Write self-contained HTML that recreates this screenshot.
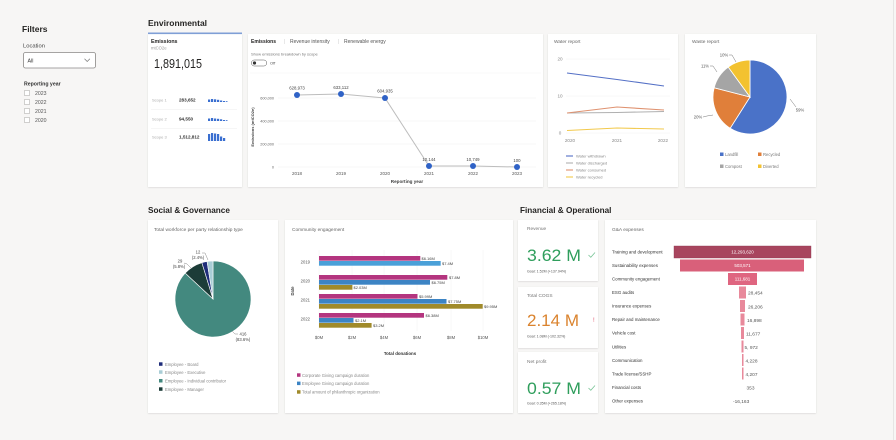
<!DOCTYPE html>
<html><head><meta charset="utf-8"><style>
html,body{margin:0;padding:0;background:#f7f6f5;}
svg{display:block;font-family:"Liberation Sans",Arial,sans-serif;}
</style></head><body>
<svg width="896" height="440" viewBox="0 0 896 440" xmlns="http://www.w3.org/2000/svg">
<defs>
<filter id="sh" x="-5%" y="-5%" width="110%" height="115%"><feDropShadow dx="0" dy="0.6" stdDeviation="0.8" flood-color="#000" flood-opacity="0.13"/></filter>
</defs>
<rect width="896" height="440" fill="#f7f6f5"/>
<line x1="893.5" y1="0" x2="893.5" y2="440" stroke="#e6e5e4" stroke-width="1"/>

<!-- Filters -->
<text x="22" y="32" font-size="8.5" font-weight="700" fill="#252423">Filters</text>
<text x="23" y="47.5" font-size="5.8" fill="#444">Location</text>
<rect x="23.5" y="52.5" width="72" height="15.5" rx="2" fill="#fff" stroke="#8a8886" stroke-width="0.8"/>
<text x="27.5" y="62.3" font-size="5.3" fill="#333">All</text>
<polyline points="84.5,58.8 87.2,61.5 89.9,58.8" fill="none" stroke="#777" stroke-width="0.7"/>
<text x="24" y="85.5" font-size="5.2" font-weight="700" fill="#333">Reporting year</text>
<g fill="#fff" stroke="#b5b3b1" stroke-width="0.6">
<rect x="24.5" y="90.5" width="5" height="5"/><rect x="24.5" y="99.5" width="5" height="5"/>
<rect x="24.5" y="108.5" width="5" height="5"/><rect x="24.5" y="117.5" width="5" height="5"/>
</g>
<g font-size="5.2" fill="#555">
<text x="35" y="95">2023</text><text x="35" y="104">2022</text><text x="35" y="113">2021</text><text x="35" y="122">2020</text>
</g>

<!-- Environmental -->
<text x="148" y="26" font-size="8.5" font-weight="700" fill="#252423">Environmental</text>
<g filter="url(#sh)">
<rect x="148" y="34" width="94" height="153" fill="#fff"/>
<rect x="248" y="34" width="295" height="153" fill="#fff"/>
<rect x="548" y="34" width="130" height="153" fill="#fff"/>
<rect x="685" y="34" width="131" height="153" fill="#fff"/>
<rect x="148" y="220" width="130" height="193" fill="#fff"/>
<rect x="285" y="220" width="228" height="193" fill="#fff"/>
<rect x="518" y="220" width="80" height="61" fill="#fff"/>
<rect x="518" y="287" width="80" height="61" fill="#fff"/>
<rect x="518" y="352" width="80" height="61" fill="#fff"/>
<rect x="605" y="220" width="211" height="193" fill="#fff"/>
</g>
<rect x="148" y="32.5" width="94" height="1.6" fill="#7f9fd6"/>

<!-- Emissions KPI card -->
<text x="151" y="43" font-size="5.3" font-weight="700" fill="#252423">Emissions</text>
<text x="151" y="49.5" font-size="4.2" fill="#999">mtCO2e</text>
<text x="154" y="68" font-size="13" fill="#252423" textLength="48" lengthAdjust="spacingAndGlyphs">1,891,015</text>
<g font-size="4" fill="#aaa"><text x="152" y="101.5">Scope 1</text><text x="152" y="120.5">Scope 2</text><text x="152" y="138.5">Scope 3</text></g>
<g font-size="4.6" font-weight="700" fill="#333"><text x="179" y="101.5">283,652</text><text x="179" y="120.5">94,550</text><text x="179" y="138.5">1,512,812</text></g>
<line x1="151" y1="109.5" x2="237" y2="109.5" stroke="#eee" stroke-width="0.6"/>
<line x1="151" y1="128.5" x2="237" y2="128.5" stroke="#eee" stroke-width="0.6"/>
<g fill="#3a6fd0">
<rect x="208" y="99.5" width="2.2" height="2.5"/><rect x="211" y="99" width="2.2" height="3"/><rect x="214" y="99.3" width="2.2" height="2.7"/><rect x="217" y="99.8" width="2.2" height="2.2"/><rect x="220" y="100.5" width="2.2" height="1.5"/><rect x="223" y="101" width="2.2" height="1"/><rect x="226" y="101.2" width="1.5" height="0.8"/>
<rect x="208" y="118.5" width="2.2" height="2.5"/><rect x="211" y="118" width="2.2" height="3"/><rect x="214" y="118.5" width="2.2" height="2.5"/><rect x="217" y="118.8" width="2.2" height="2.2"/><rect x="220" y="119.3" width="2.2" height="1.7"/><rect x="223" y="120" width="2.2" height="1"/><rect x="226" y="120.2" width="1.5" height="0.8"/>
<rect x="208" y="134" width="2.2" height="7"/><rect x="211" y="133" width="2.2" height="8"/><rect x="214" y="133.5" width="2.2" height="7.5"/><rect x="217" y="134" width="2.2" height="7"/><rect x="220" y="136.5" width="2.2" height="4.5"/><rect x="223" y="138" width="2.2" height="3"/>
</g>

<!-- Emissions line chart -->
<text x="251" y="43" font-size="5" font-weight="700" fill="#252423">Emissions</text>
<text x="284" y="43" font-size="5" fill="#ccc">|</text>
<text x="290" y="43" font-size="5" fill="#555">Revenue intensity</text>
<text x="338" y="43" font-size="5" fill="#ccc">|</text>
<text x="344" y="43" font-size="5" fill="#555">Renewable energy</text>
<text x="251" y="55.5" font-size="4" fill="#777">Show emissions breakdown by scope</text>
<rect x="251.3" y="60" width="15.5" height="6" rx="3" fill="#fff" stroke="#555" stroke-width="0.5"/>
<circle cx="254.5" cy="63" r="1.6" fill="#333"/>
<text x="270" y="64.5" font-size="4" fill="#555">Off</text>
<line x1="250" y1="73" x2="541" y2="73" stroke="#f2f2f2" stroke-width="0.5"/>
<g stroke="#efefef" stroke-width="0.5">
<line x1="278" y1="98" x2="536" y2="98"/><line x1="278" y1="121" x2="536" y2="121"/><line x1="278" y1="144" x2="536" y2="144"/><line x1="278" y1="167" x2="536" y2="167"/>
</g>
<g font-size="3.8" fill="#666" text-anchor="end">
<text x="274" y="99.5">600,000</text><text x="274" y="122.5">400,000</text><text x="274" y="145.5">200,000</text><text x="274" y="168.5">0</text>
</g>
<text transform="translate(254,127) rotate(-90)" font-size="4" font-weight="700" fill="#444" text-anchor="middle">Emissions (mtCO2e)</text>
<g font-size="4.5" fill="#555" text-anchor="middle">
<text x="297" y="175">2018</text><text x="341" y="175">2019</text><text x="385" y="175">2020</text><text x="429" y="175">2021</text><text x="473" y="175">2022</text><text x="517" y="175">2023</text>
</g>
<text x="407" y="183" font-size="4.6" font-weight="700" fill="#444" text-anchor="middle">Reporting year</text>
<polyline points="297,95 341,94 385,98 429,166 473,166 517,167" fill="none" stroke="#bdbdbd" stroke-width="1"/>
<g fill="#2f62c6">
<circle cx="297" cy="95" r="3"/><circle cx="341" cy="94" r="3"/><circle cx="385" cy="98" r="3"/><circle cx="429" cy="166" r="3"/><circle cx="473" cy="166" r="3"/><circle cx="517" cy="167" r="3"/>
</g>
<g font-size="4.3" fill="#444" text-anchor="middle">
<text x="297" y="89.5">628,973</text><text x="341" y="89">633,112</text><text x="385" y="92.5">604,935</text><text x="429" y="161">10,144</text><text x="473" y="161">10,749</text><text x="517" y="162">100</text>
</g>

<!-- Water report -->
<text x="554" y="43" font-size="4.8" fill="#666">Water report</text>
<g stroke="#f0f0f0" stroke-width="0.5"><line x1="566" y1="59" x2="670" y2="59"/><line x1="566" y1="96" x2="670" y2="96"/><line x1="566" y1="133" x2="670" y2="133"/></g>
<g font-size="4.6" fill="#888" text-anchor="middle">
<text x="560" y="60.5">20</text><text x="560" y="97.5">10</text><text x="560" y="134.5">0</text>
<text x="570" y="142">2020</text><text x="617" y="142">2021</text><text x="663" y="142">2022</text>
</g>
<polyline points="567,73 617,79.5 664,86" fill="none" stroke="#5470c6" stroke-width="1.1"/>
<polyline points="567,113 617,112.5 664,111.5" fill="none" stroke="#b0b0b0" stroke-width="1.1"/>
<polyline points="567,113 617,107 664,110" fill="none" stroke="#df9270" stroke-width="1.1"/>
<polyline points="567,130.5 617,128 664,129" fill="none" stroke="#f2c94c" stroke-width="1.1"/>
<g stroke-width="1.1"><line x1="566" y1="156" x2="573" y2="156" stroke="#5470c6"/><line x1="566" y1="163" x2="573" y2="163" stroke="#b0b0b0"/><line x1="566" y1="170" x2="573" y2="170" stroke="#df9270"/><line x1="566" y1="177" x2="573" y2="177" stroke="#f2c94c"/></g>
<g font-size="4" fill="#888"><text x="576" y="157.5">Water withdrawn</text><text x="576" y="164.5">Water discharged</text><text x="576" y="171.5">Water consumed</text><text x="576" y="178.5">Water recycled</text></g>

<!-- Waste report -->
<text x="692" y="43" font-size="4.8" fill="#666">Waste report</text>
<g stroke="#fff" stroke-width="0.8">
<path d="M750,97 L750,60 A37,37 0 1 1 730.18,128.24 Z" fill="#4a72c8"/>
<path d="M750,97 L730.18,128.24 A37,37 0 0 1 714.16,87.80 Z" fill="#e07f3a"/>
<path d="M750,97 L714.16,87.80 A37,37 0 0 1 728.25,67.07 Z" fill="#a5a5a5"/>
<path d="M750,97 L728.25,67.07 A37,37 0 0 1 750,60 Z" fill="#f3c230"/>
</g>
<g fill="none" stroke="#777" stroke-width="0.5">
<polyline points="729,55 732,55 736,62"/><polyline points="710,66 713,66 717,72"/><polyline points="703,117 707,116 713,115"/><polyline points="790,99 793,103 796,107"/>
</g>
<g font-size="4.2" fill="#555" text-anchor="middle">
<text x="724" y="56.5">10%</text><text x="705" y="67.5">11%</text><text x="698" y="118.5">20%</text><text x="800" y="111.5">59%</text>
</g>
<rect x="720" y="152.5" width="3.5" height="3.5" fill="#4a72c8"/><rect x="758" y="152.5" width="3.5" height="3.5" fill="#e07f3a"/>
<rect x="720" y="164.5" width="3.5" height="3.5" fill="#a5a5a5"/><rect x="758" y="164.5" width="3.5" height="3.5" fill="#f3c230"/>
<g font-size="4.2" fill="#777"><text x="725" y="156">Landfill</text><text x="763" y="156">Recycled</text><text x="725" y="168">Compost</text><text x="763" y="168">Diverted</text></g>

<!-- Social & Governance -->
<text x="148" y="213" font-size="8.2" font-weight="700" fill="#252423">Social &amp; Governance</text>
<text x="154" y="231" font-size="4.8" fill="#666">Total workforce per party relationship type</text>
<g stroke="#fff" stroke-width="0.6">
<path d="M213,299 L213,261 A38,38 0 1 1 185.21,273.08 Z" fill="#43897f"/>
<path d="M213,299 L185.21,273.08 A38,38 0 0 1 201.89,262.66 Z" fill="#1c3c38"/>
<path d="M213,299 L201.89,262.66 A38,38 0 0 1 207.06,261.47 Z" fill="#1f2d7a"/>
<path d="M213,299 L207.06,261.47 A38,38 0 0 1 213,261 Z" fill="#a9cdd6"/>
</g>
<g fill="none" stroke="#888" stroke-width="0.5">
<polyline points="202,253 205,253 208,260"/><polyline points="184,263 187,264 191,268"/><polyline points="232,331 235,334 238,334"/>
</g>
<g font-size="4.2" fill="#444" text-anchor="middle">
<text x="198" y="253.5">12</text><text x="198" y="258.8">(2.4%)</text>
<text x="180" y="262.5">29</text><text x="179" y="267.8">(5.8%)</text>
<text x="243" y="335.5">416</text><text x="243" y="341">(83.6%)</text>
</g>
<rect x="159" y="362.3" width="3.5" height="3.5" fill="#1f2d7a"/><rect x="159" y="370.3" width="3.5" height="3.5" fill="#a9cdd6"/>
<rect x="159" y="379" width="3.5" height="3.5" fill="#43897f"/><rect x="159" y="387.3" width="3.5" height="3.5" fill="#1c3c38"/>
<g font-size="4.2" fill="#888"><text x="165" y="365.8">Employee - Board</text><text x="165" y="373.8">Employee - Executive</text><text x="165" y="382.5">Employee - Individual contributor</text><text x="165" y="390.8">Employee - Manager</text></g>

<!-- Community engagement -->
<text x="292" y="231" font-size="4.8" fill="#666">Community engagement</text>
<g stroke="#f0f0f0" stroke-width="0.5">
<line x1="319" y1="250" x2="319" y2="331"/><line x1="352" y1="250" x2="352" y2="331"/><line x1="384" y1="250" x2="384" y2="331"/><line x1="417" y1="250" x2="417" y2="331"/><line x1="451" y1="250" x2="451" y2="331"/><line x1="483" y1="250" x2="483" y2="331"/>
</g>
<g fill="#b4357f"><rect x="319" y="256" width="101.3" height="4.7"/><rect x="319" y="275" width="128.3" height="4.7"/><rect x="319" y="294" width="98.5" height="4.7"/><rect x="319" y="313" width="105" height="4.7"/></g>
<g fill="#3c84c4"><rect x="319" y="261" width="121.7" height="4.7" fill="#4aa0d8"/><rect x="319" y="280" width="111" height="4.7"/><rect x="319" y="299" width="127.5" height="4.7"/><rect x="319" y="318" width="34.5" height="4.7"/></g>
<g fill="#a08a2a"><rect x="319" y="285" width="33.4" height="4.7"/><rect x="319" y="304" width="163.7" height="4.7"/><rect x="319" y="323" width="52.6" height="4.7"/></g>
<g font-size="4" fill="#444">
<text x="421.5" y="260">$6.16M</text><text x="442" y="265">$7.4M</text>
<text x="449" y="279">$7.8M</text><text x="431.5" y="284">$6.75M</text><text x="353.5" y="289">$2.03M</text>
<text x="419" y="298">$5.99M</text><text x="448" y="303">$7.75M</text><text x="484" y="308">$9.95M</text>
<text x="425.5" y="317">$6.38M</text><text x="355" y="322">$2.1M</text><text x="373" y="327">$3.2M</text>
</g>
<g font-size="4.2" fill="#555" text-anchor="end"><text x="310" y="263.5">2019</text><text x="310" y="282.5">2020</text><text x="310" y="301.5">2021</text><text x="310" y="320.5">2022</text></g>
<text transform="translate(294,291) rotate(-90)" font-size="4.2" font-weight="700" fill="#444" text-anchor="middle">Date</text>
<g font-size="4.2" fill="#555" text-anchor="middle">
<text x="319" y="339">$0M</text><text x="352" y="339">$2M</text><text x="384" y="339">$4M</text><text x="417" y="339">$6M</text><text x="451" y="339">$8M</text><text x="483" y="339">$10M</text>
</g>
<text x="400" y="355" font-size="4.4" font-weight="700" fill="#333" text-anchor="middle">Total donations</text>
<rect x="297" y="373.3" width="3.5" height="3.5" fill="#b4357f"/><rect x="297" y="381.6" width="3.5" height="3.5" fill="#3c84c4"/><rect x="297" y="390.2" width="3.5" height="3.5" fill="#a08a2a"/>
<g font-size="4.2" fill="#888"><text x="302" y="376.8">Corporate Giving campaign duration</text><text x="302" y="385.1">Employee Giving campaign duration</text><text x="302" y="393.7">Total amount of philanthropic organization</text></g>

<!-- Financial & Operational -->
<text x="520" y="213" font-size="8.2" font-weight="700" fill="#252423">Financial &amp; Operational</text>
<g font-size="4.8" fill="#777"><text x="527" y="230">Revenue</text><text x="527" y="297">Total COGS</text><text x="527" y="363">Net profit</text></g>
<text x="527" y="261" font-size="17" fill="#2f9e5c" textLength="54" lengthAdjust="spacingAndGlyphs">3.62 M</text>
<text x="527" y="326" font-size="17" fill="#da832e" textLength="52" lengthAdjust="spacingAndGlyphs">2.14 M</text>
<text x="527" y="394" font-size="17" fill="#2f9e5c" textLength="54" lengthAdjust="spacingAndGlyphs">0.57 M</text>
<polyline points="588.5,255 590.8,257.3 595,252.5" fill="none" stroke="#78c496" stroke-width="0.8"/>
<polyline points="588.5,388 590.8,390.3 595,385.5" fill="none" stroke="#78c496" stroke-width="0.8"/>
<text x="593" y="322" font-size="6" fill="#e0566c">!</text>
<g font-size="3.6" fill="#555"><text x="527" y="272.5">Goal: 1.52M (+137.94%)</text><text x="527" y="337.5">Goal: 1.08M (-102.32%)</text><text x="527" y="404.5">Goal: 0.35M (+265.18%)</text></g>

<!-- G&A expenses -->
<text x="612" y="231" font-size="4.8" fill="#666">G&amp;A expenses</text>
<g font-size="4.4" fill="#333">
<text x="612" y="253.5">Training and development</text><text x="612" y="267">Sustainability expenses</text><text x="612" y="280.6">Community engagement</text><text x="612" y="294.1">ESG audits</text><text x="612" y="307.7">Insurance expenses</text><text x="612" y="321.2">Repair and maintenance</text><text x="612" y="334.7">Vehicle cost</text><text x="612" y="348.3">Utilities</text><text x="612" y="361.8">Communication</text><text x="612" y="375.4">Trade license/SSHP</text><text x="612" y="388.9">Financial costs</text><text x="612" y="402.4">Other expenses</text>
</g>
<rect x="674" y="246" width="137" height="12" fill="#a8455e" stroke="#8e3a50" stroke-width="0.4"/>
<rect x="680" y="259.5" width="124" height="12" fill="#d9607a"/>
<rect x="728" y="273" width="29" height="12" fill="#df6580"/>
<g fill="#e8899b">
<rect x="739" y="286.5" width="7" height="12"/><rect x="740" y="300" width="5" height="12"/><rect x="740.5" y="313.5" width="4" height="12"/><rect x="741" y="327" width="3" height="12"/><rect x="741.5" y="340.5" width="2" height="12"/><rect x="742" y="354" width="1.5" height="12"/><rect x="742" y="367.5" width="1.5" height="12"/>
</g>
<g font-size="4.5" fill="#fff" text-anchor="middle"><text x="742.5" y="253.6">12,293,620</text><text x="742.5" y="267.1">503,571</text><text x="742.5" y="280.6">111,681</text></g>
<g font-size="4.8" fill="#555">
<text x="748" y="294.5">28,454</text><text x="748" y="308.5">26,206</text><text x="747" y="321.8">16,898</text><text x="746" y="335.5">11,677</text><text x="744.5" y="349">5, 972</text><text x="745.5" y="362.5">4,228</text><text x="745.5" y="376">4,207</text><text x="746.5" y="389.5">353</text><text x="733" y="403">-16,163</text>
</g>
</svg>
</body></html>
